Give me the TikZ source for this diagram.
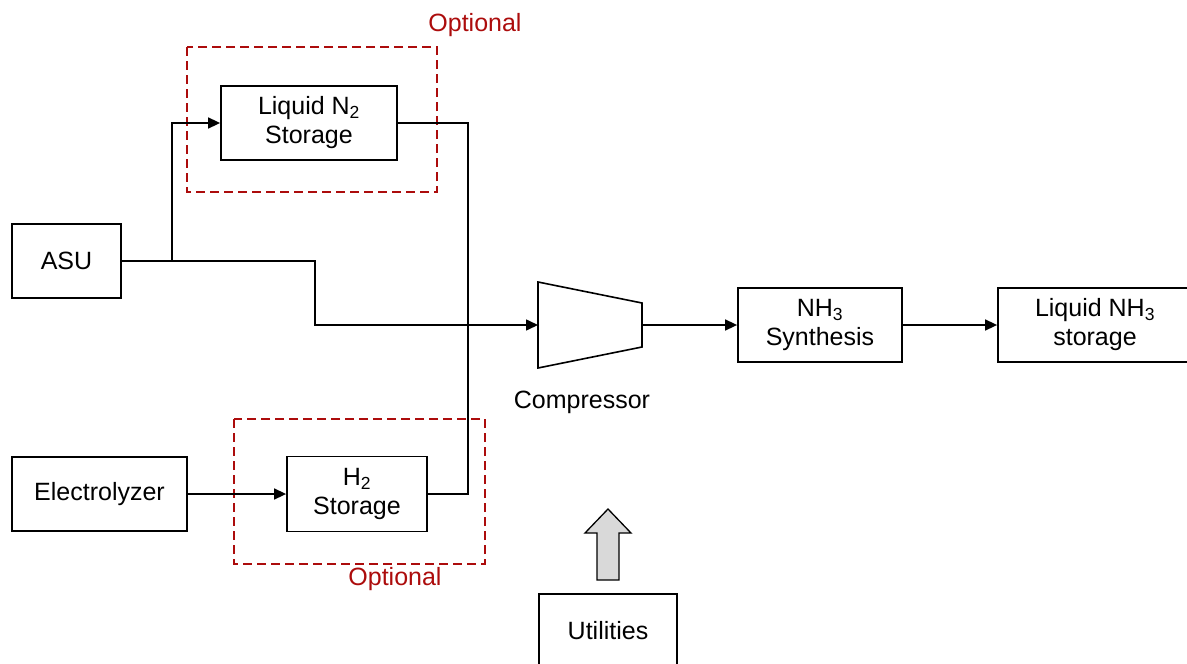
\documentclass[tikz,border=0pt]{standalone}
\usepackage{fontspec}
\setmainfont{Liberation Sans}
\usetikzlibrary{arrows.meta, positioning}
\definecolor{optred}{RGB}{172,12,12}
\definecolor{arrowgrey}{RGB}{217,217,217}
\tikzset{
    unit/.style={
        rectangle, draw=black, line width=1.8pt,
        minimum height=74pt, inner sep=0pt,
        fill=white, align=center
    },
    wire/.style={draw=black, line width=1.6pt},
    flow/.style={draw=black, line width=1.6pt, -{Triangle[length=12pt, width=11pt]}},
    optbox/.style={draw=optred, line width=1.8pt, dash pattern=on 9pt off 5pt},
    optlabel/.style={text=optred}
}

\begin{document}
\begin{tikzpicture}[x=1pt, y=-1pt, font=\fontsize{25}{29}\selectfont]
\useasboundingbox (0,0) rectangle (1187,664);
\clip (0,0) rectangle (1187,664);

% Sources
\node[unit, minimum width=109pt] (asu) at (66.5,261) {ASU};
\node[unit, minimum width=175pt] (elec) at (99.5,494) {Electrolyzer};

% Optional storage
\node[unit, minimum width=176pt] (ln2) at (309,123) {Liquid N\textsubscript{2}\\Storage};
\node[unit, minimum width=140pt, minimum height=75pt] (h2) at (357,494) {H\textsubscript{2}\\Storage};

\draw[optbox] (187,47) rectangle (437,192);
\node[optlabel] (opt1) at (475,25) {Optional};
\draw[optbox] (234,419) rectangle (485,564);
\node[optlabel] (opt2) at (395,579) {Optional};

% Compressor
\draw[wire] (538,282) -- (642,303) -- (642,347) -- (538,368) -- cycle;
\coordinate (compin) at (538,325);
\coordinate (compout) at (642,325);
\node (complabel) at (582,402) {Compressor};

% Synthesis and product
\node[unit, minimum width=164pt] (synth) at (820,325) {NH\textsubscript{3}\\Synthesis};
\node[unit, minimum width=194pt] (lnh3) at (1095,325) {Liquid NH\textsubscript{3}\\storage};

% Utilities
\node[unit, minimum width=138pt] (util) at (608,631) {Utilities};
\draw[line width=1.3pt, fill=arrowgrey] (597,580) -- (597,533) -- (585,533) -- (608,509)
    -- (631,533) -- (619,533) -- (619,580) -- cycle;

% Connections
\coordinate (split) at (172,261);
\coordinate (bend) at (315,325);
\coordinate (mix) at (468,325);

\draw[flow] (asu.east) -| (bend) -- (compin);
\draw[flow] (split) |- (ln2.west);
\draw[wire] (ln2.east) -| (mix);
\draw[wire] (h2.east) -| (mix);
\draw[flow] (elec) -- (h2);
\draw[flow] (compout) -- (synth);
\draw[flow] (synth) -- (lnh3);

\end{tikzpicture}
\end{document}
